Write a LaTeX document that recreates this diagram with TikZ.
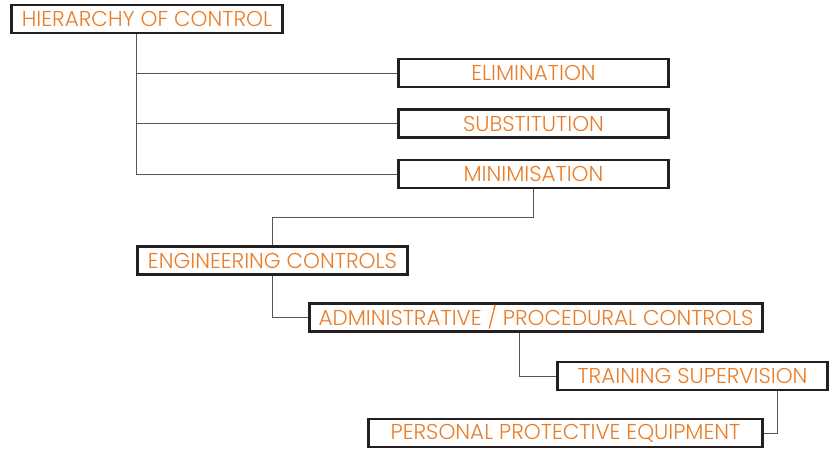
\documentclass[tikz,border=0pt]{standalone}
\usepackage{fontspec}
\setmainfont{Poppins Light}
\usepackage{tikz}
\definecolor{hocorange}{RGB}{234,125,40}
\definecolor{hocframe}{RGB}{35,31,32}
\definecolor{hocline}{RGB}{85,85,85}

\begin{document}
\begin{tikzpicture}[x=1pt,y=-1pt]
			\tikzset{hocbox/.style={draw=hocframe,line width=2.6pt,fill=white,text=hocorange,font=\fontsize{21.5}{22}\selectfont,minimum height=28pt,inner sep=0pt}}
			\tikzset{hoclink/.style={draw=hocline,line width=0.9pt}}
			\useasboundingbox (0,0) rectangle (838,448);
			\node[hocbox,minimum width=271pt] (hoc) at (147,19) {HIERARCHY OF CONTROL};
			\node[hocbox,minimum width=270pt] (elim) at (533.5,73) {ELIMINATION};
			\node[hocbox,minimum width=270pt] (subs) at (533.5,123.5) {SUBSTITUTION};
			\node[hocbox,minimum width=270pt] (mini) at (533.5,174) {MINIMISATION};
			\node[hocbox,minimum width=270pt] (eng) at (272.5,260.5) {ENGINEERING CONTROLS};
			\node[hocbox,minimum width=453pt] (adm) at (536,317.5) {ADMINISTRATIVE / PROCEDURAL CONTROLS};
			\node[hocbox,minimum width=270pt] (trn) at (692.5,376) {TRAINING SUPERVISION};
			\node[hocbox,minimum width=394pt] (ppe) at (565.5,433) {PERSONAL PROTECTIVE EQUIPMENT};
			\draw[hoclink] ([xshift=-11pt]hoc.south) |- (elim.west);
			\draw[hoclink] ([xshift=-11pt]hoc.south) |- (subs.west);
			\draw[hoclink] ([xshift=-11pt]hoc.south) |- (mini.west);
			\draw[hoclink] (mini.south) -- ++(0,28) -| (eng.north);
			\draw[hoclink] (eng.south) |- (adm.west);
			\draw[hoclink] ([xshift=-17pt]adm.south) |- (trn.west);
			\draw[hoclink] ([xshift=84.5pt]trn.south) |- (ppe.east);
\end{tikzpicture}
\end{document}
